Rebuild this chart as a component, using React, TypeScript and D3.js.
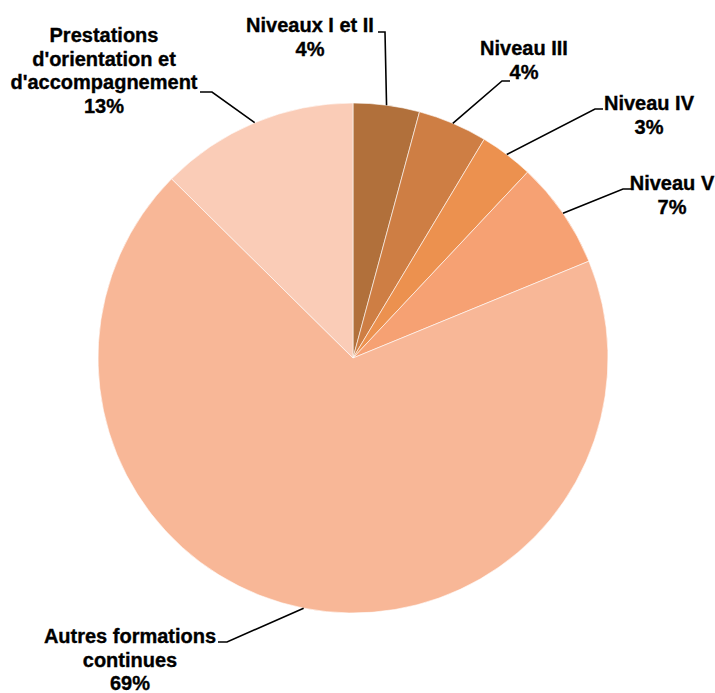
import React from "react";
import * as d3 from "d3";

const categories = [
  "Niveaux I et II",
  "Niveau III",
  "Niveau IV",
  "Niveau V",
  "Autres formations continues",
  "Prestations d'orientation et d'accompagnement",
];
const values = [4.2, 4.4, 3.4, 6.8, 68.6, 12.6];
const colors = ["#B1703B", "#CE7E44", "#EC914F", "#F6A173", "#F8B797", "#FACCB7"];
const labelLines = [
  ["Niveaux I et II"],
  ["Niveau III"],
  ["Niveau IV"],
  ["Niveau V"],
  ["Autres formations", "continues"],
  ["Prestations", "d'orientation et", "d'accompagnement"],
];

// label layout: text center x, first baseline y, leader horizontal segment
const labelLayout = [
  { cx: 310, y: 32, hx1: 378, hx2: 385, hy: 32 },
  { cx: 524, y: 55, hx1: 510, hx2: 502, hy: 81 },
  { cx: 649, y: 110, hx1: 603, hx2: 595, hy: 109 },
  { cx: 672, y: 190, hx1: 632, hx2: 623, hy: 189 },
  { cx: 130, y: 643, hx1: 218, hx2: 227, hy: 642 },
  { cx: 104, y: 42, hx1: 200, hx2: 212, hy: 92 },
];

const W = 715;
const H = 693;
const cx = 353;
const cy = 358;
const R = 255;
const LH = 23.6;

export default function App() {
  const pie = d3.pie<number>().sort(null).value((d) => d)(values);
  const arc = d3.arc<d3.PieArcDatum<number>>().innerRadius(0).outerRadius(R);
  const font = "'Liberation Sans Narrow', 'Arial Narrow', sans-serif";
  return (
    <svg
      width={W}
      height={H}
      style={{ position: "absolute", left: 0, top: 0, background: "#fff" }}
    >
      <g transform={`translate(${cx},${cy})`}>
        {pie.map((p, i) => (
          <path key={categories[i]} d={arc(p) || ""} fill={colors[i]} stroke="#fff" strokeWidth={0.6} />
        ))}
      </g>
      {pie.map((p, i) => {
        const L = labelLayout[i];
        const mid = (p.startAngle + p.endAngle) / 2;
        const ex = cx + R * Math.sin(mid);
        const ey = cy - R * Math.cos(mid);
        const lines = [...labelLines[i], `${Math.round(values[i])}%`];
        return (
          <g key={"l" + i}>
            <polyline
              points={`${L.hx1},${L.hy} ${L.hx2},${L.hy} ${ex},${ey}`}
              fill="none"
              stroke="#000"
              strokeWidth={1.6}
            />
            <text
              textAnchor="middle"
              fontFamily={font}
              fontWeight="bold"
              fontSize={20}
              fill="#000"
              stroke="#000"
              strokeWidth={0.35}
            >
              {lines.map((t, j) => (
                <tspan key={j} x={L.cx} y={L.y + j * LH}>
                  {t}
                </tspan>
              ))}
            </text>
          </g>
        );
      })}
    </svg>
  );
}
